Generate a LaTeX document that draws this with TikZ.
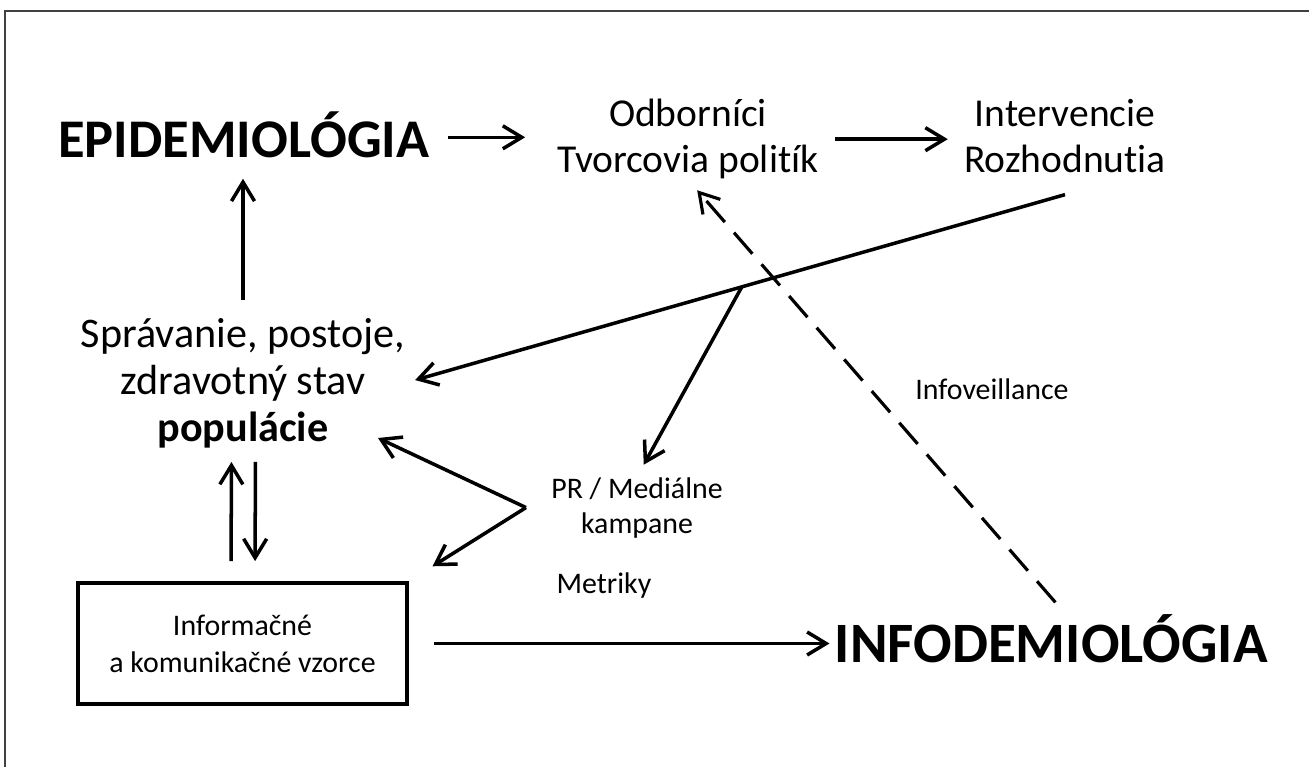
\documentclass[tikz,border=0pt]{standalone}
\usepackage{fontspec}
\setmainfont{Carlito}[Ligatures=NoCommon]
\usetikzlibrary{arrows.meta}

\tikzset{
  bigtxt/.style={inner sep=0pt, font=\fontsize{31}{36}\selectfont\bfseries},
  midtxt/.style={inner sep=0pt, align=center, font=\fontsize{22.5}{26.5}\selectfont},
  boxtxt/.style={draw, line width=2.1pt, align=center, minimum width=6.58cm,
    minimum height=2.42cm, font=\fontsize{17}{21}\selectfont},
  smalltxt/.style={inner sep=0pt, align=center, font=\fontsize{17}{19.9}\selectfont},
  arr/.style={line width=2pt, -{Straight Barb[length=3.8mm,width=4.6mm]}},
  dasharr/.style={arr, line width=1.8pt, dash pattern=on 0.56cm off 0.28cm},
}

\begin{document}
\begin{tikzpicture}[x=0.02cm, y=-0.02cm]
    \useasboundingbox (0,0) rectangle (1309,767);
    \draw[line width=0.9pt, black!75] (5,767) -- (5,11) -- (1309,11);

    \node[bigtxt, anchor=base west] (epi) at (58,157) {EPIDEMIOLÓGIA};
    \node[bigtxt, anchor=base east, font=\fontsize{32.5}{36}\selectfont\bfseries] (infod) at (1268,662) {INFODEMIOLÓGIA};
    \node[midtxt, anchor=base] (odb) at (688,173) {Odborníci\\Tvorcovia politík};
    \node[midtxt, anchor=base] (int) at (1065,173) {Intervencie\\Rozhodnutia};
    \node[midtxt, anchor=base, font=\fontsize{24}{26.75}\selectfont] (pop) at (243,441)
        {Správanie, postoje,\\zdravotný stav\\\textbf{populácie}};
    \node[boxtxt] (box) at (242.5,643.5) {Informačné\\a komunikačné vzorce};
    \node[smalltxt, anchor=base] (pr) at (637,533) {PR / Mediálne\\kampane};
    \node[smalltxt, anchor=base] (inf) at (992,399) {Infoveillance};
    \node[smalltxt, anchor=base] (met) at (604,593) {Metriky};

    \coordinate (prv) at ([xshift=-0.5cm]pr.west);
    \coordinate (popR) at (378,438);

    % top row
    \draw[arr, shorten <=0.36cm, shorten >=0.64cm] ([yshift=-0.06cm]epi.east) -- ([yshift=-0.06cm]epi.east -| odb.west);
    \draw[arr, shorten <=0.32cm, shorten >=0.32cm] (odb.east) -- (odb.east -| int.west);
    \draw[arr, shorten >=0.2cm] ([yshift=-0.42cm]int.south) -- coordinate[pos=0.49] (brk) (pop.east);
    \draw[arr, shorten >=0.28cm] (brk) -- (pr.north);

    % PR / media
    \draw[arr] (prv) -- (popR);
    \draw[arr, shorten >=0.56cm] (prv) -- (box.north east);

    % population
    \draw[arr, shorten <=0.36cm, shorten >=0.42cm] (pop.north) -- (pop.north |- epi.south);
    \draw[arr, shorten <=0.4cm, shorten >=0.28cm] ([xshift=-0.23cm]box.north) -- ([xshift=-0.23cm]pop.south);
    \draw[arr, shorten <=0.28cm, shorten >=0.4cm] ([xshift=0.25cm]pop.south) -- ([xshift=0.25cm]box.north);

    \draw[arr, shorten <=0.5cm, shorten >=0.1cm] (box.east) -- (box.east -| infod.west);
    \draw[dasharr, shorten <=0.3cm, shorten >=0.28cm] ([xshift=0.28cm]infod.north) -- (odb.south);

\end{tikzpicture}
\end{document}
